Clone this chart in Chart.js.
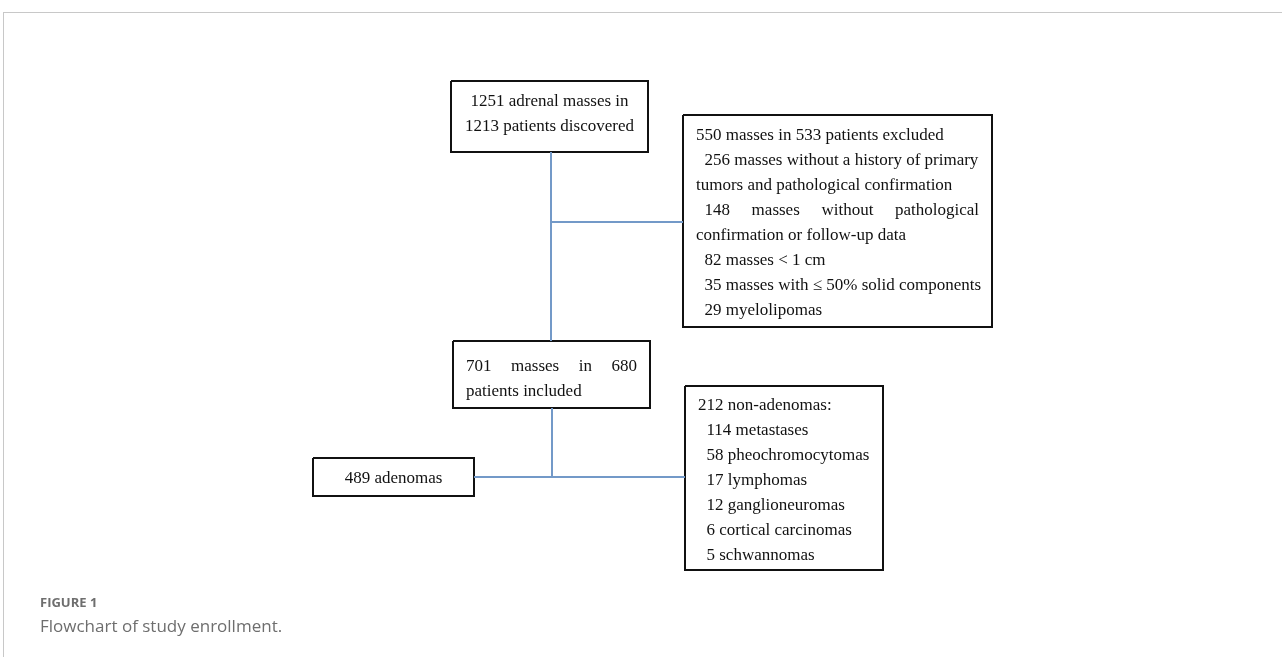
<!DOCTYPE html>
<html>
<head>
<meta charset="utf-8">
<script src="https://cdn.jsdelivr.net/npm/chart.js@4/dist/chart.umd.min.js"></script>
<style>
  html, body { margin: 0; padding: 0; background: #fff; }
  #wrap { position: relative; width: 1282px; height: 657px; overflow: hidden; }
  #frame { position: absolute; left: 3px; top: 12px; width: 1290px; height: 700px;
           border-top: 1px solid #c8c8c8; border-left: 1px solid #c8c8c8; }
  #flow { position: absolute; left: 0; top: 0; }
  .fig { position: absolute; left: 40px; top: 593px; font-family: "Open Sans", sans-serif;
         color: #6e6e6e; font-size: 13px; font-weight: 700; }
  .cap { position: absolute; left: 40px; top: 614px; font-family: "Open Sans", sans-serif;
         color: #6e6e6e; font-size: 17px; }
</style>
</head>
<body>
<div id="wrap">
  <div id="frame"></div>
  <canvas id="flow" width="1282" height="657"></canvas>
  <div class="fig">FIGURE 1</div>
  <div class="cap">Flowchart of study enrollment.</div>
</div>
<script>
// ---------- 데이터 (상자 문구) ----------
const startLines = ['1251 adrenal masses in', '1213 patients discovered'];
const excludedLines = [
  '550 masses in 533 patients excluded',
  '  256 masses without a history of primary',
  'tumors and pathological confirmation',
  '  148 masses without pathological',
  'confirmation or follow-up data',
  '  82 masses < 1 cm',
  '  35 masses with \u2264 50% solid components',
  '  29 myelolipomas',
];
const includedLines = ['701 masses in 680', 'patients included'];
const adenomaLines = ['489 adenomas'];
const nonAdenomaLines = [
  '212 non-adenomas:',
  '  114 metastases',
  '  58 pheochromocytomas',
  '  17 lymphomas',
  '  12 ganglioneuromas',
  '  6 cortical carcinomas',
  '  5 schwannomas',
];
// 양쪽 정렬할 줄 번호
const excludedJustify = [3];
const includedJustify = [0];

// ---------- 배치 (화면 좌표 단위) ----------
const boxes = [
  { lines: startLines, x0: 451, x1: 648, y0: 81, y1: 152, align: 'center', top: 102, justify: [] },
  { lines: excludedLines, x0: 683, x1: 992, y0: 115, y1: 327, align: 'left', top: 136, justify: excludedJustify },
  { lines: includedLines, x0: 453, x1: 650, y0: 341, y1: 408, align: 'left', top: 367, justify: includedJustify },
  { lines: adenomaLines, x0: 313, x1: 474, y0: 458, y1: 496, align: 'center', top: 479, justify: [] },
  { lines: nonAdenomaLines, x0: 685, x1: 883, y0: 386, y1: 570, align: 'left', top: 406, justify: [] },
];
const lineGap = 25;
const padX = 13;

// 연결선
const connectors = [
  [{ x: 551, y: 152 }, { x: 551, y: 341 }],
  [{ x: 551, y: 222 }, { x: 683, y: 222 }],
  [{ x: 552, y: 408 }, { x: 552, y: 477 }],
  [{ x: 474, y: 477 }, { x: 685, y: 477 }],
];

const boxColor = '#111';
const linkColor = '#7399c8';

// 상자 테두리 dataset
const boxSets = boxes.map((b) => ({
  data: [
    { x: b.x0, y: b.y0 }, { x: b.x1, y: b.y0 }, { x: b.x1, y: b.y1 },
    { x: b.x0, y: b.y1 }, { x: b.x0, y: b.y0 },
  ],
  borderColor: boxColor,
  borderWidth: 2,
  borderJoinStyle: 'miter',
}));

const linkSets = connectors.map((c) => ({
  data: c,
  borderColor: linkColor,
  borderWidth: 2,
}));

// 상자 안 문구 그리기
const boxTextPlugin = {
  id: 'boxText',
  afterDatasetsDraw(chart) {
    const { ctx, scales } = chart;
    const sx = scales.x, sy = scales.y;
    ctx.save();
    ctx.font = '17px "Liberation Serif", "Times New Roman", serif';
    ctx.fillStyle = '#111';
    ctx.textBaseline = 'middle';
    boxes.forEach((b) => {
      const left = sx.getPixelForValue(b.x0) + padX;
      const right = sx.getPixelForValue(b.x1) - padX;
      const mid = (sx.getPixelForValue(b.x0) + sx.getPixelForValue(b.x1)) / 2;
      b.lines.forEach((line, i) => {
        const y = sy.getPixelForValue(b.top + i * lineGap);
        if (b.align === 'center') {
          ctx.textAlign = 'center';
          ctx.fillText(line, mid, y);
          return;
        }
        ctx.textAlign = 'left';
        if (b.justify.includes(i)) {
          const lead = line.match(/^ */)[0];
          const indent = ctx.measureText(lead).width;
          const words = line.trim().split(/ +/);
          const total = words.reduce((s, w) => s + ctx.measureText(w).width, 0);
          const gap = (right - left - indent - total) / (words.length - 1);
          let x = left + indent;
          words.forEach((w) => {
            ctx.fillText(w, x, y);
            x += ctx.measureText(w).width + gap;
          });
        } else {
          ctx.fillText(line, left, y);
        }
      });
    });
    ctx.restore();
  },
};

new Chart(document.getElementById('flow'), {
  type: 'scatter',
  data: { datasets: [...linkSets, ...boxSets] },
  options: {
    responsive: false,
    animation: false,
    showLine: true,
    elements: { point: { radius: 0, hoverRadius: 0 }, line: { tension: 0, fill: false } },
    layout: { padding: 0 },
    scales: {
      x: { type: 'linear', min: 0, max: 1282, display: false },
      y: { type: 'linear', min: 0, max: 657, reverse: true, display: false },
    },
    plugins: { legend: { display: false }, tooltip: { enabled: false } },
  },
  plugins: [boxTextPlugin],
});
</script>
</body>
</html>
